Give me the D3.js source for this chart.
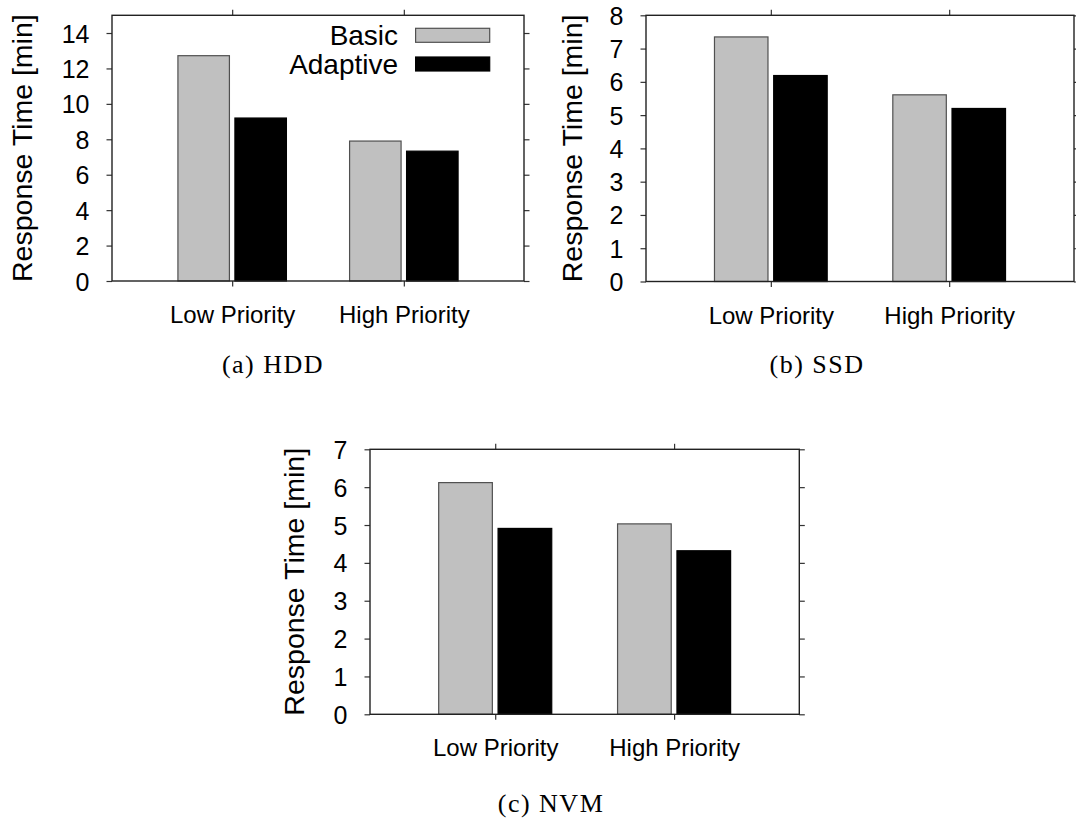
<!DOCTYPE html>
<html>
<head>
<meta charset="utf-8">
<script src="https://cdn.jsdelivr.net/npm/d3@7"></script>
<style>
  body { margin: 0; background: #fff; }
  svg { display: block; }
</style>
</head>
<body>
<svg id="fig" width="1076" height="820"></svg>
<script>
// Response time per storage tier, two request priorities, two scheduling modes
const categories = ["Low Priority", "High Priority"];
const seriesNames = ["Basic", "Adaptive"];

const hddBasic = [12.72, 7.90];
const hddAdaptive = [9.20, 7.33];
const ssdBasic = [7.35, 5.61];
const ssdAdaptive = [6.19, 5.20];
const nvmBasic = [6.12, 5.03];
const nvmAdaptive = [4.91, 4.32];

const hddTicks = [0, 2, 4, 6, 8, 10, 12, 14];
const ssdTicks = [0, 1, 2, 3, 4, 5, 6, 7, 8];
const nvmTicks = [0, 1, 2, 3, 4, 5, 6, 7];

const captions = ["(a) HDD", "(b) SSD", "(c) NVM"];
const yLabel = "Response Time [min]";

const seriesFill = ["#c0c0c0", "#000000"];
const seriesStroke = ["#505050", "#000000"];

const SANS = "'Liberation Sans', Arial, Helvetica, sans-serif";
const SERIF = "'Liberation Serif', 'Times New Roman', serif";

const panels = [
  { basic: hddBasic, adaptive: hddAdaptive, ticks: hddTicks, yMax: 15,
    box: { x0: 112, x1: 524, y0: 15.3, y1: 281 }, yLabelX: 32,
    caption: captions[0], capX: 273, capY: 373, legend: true },
  { basic: ssdBasic, adaptive: ssdAdaptive, ticks: ssdTicks, yMax: 8,
    box: { x0: 646, x1: 1074, y0: 15.3, y1: 281.5 }, yLabelX: 582,
    caption: captions[1], capX: 817, capY: 373, legend: false },
  { basic: nvmBasic, adaptive: nvmAdaptive, ticks: nvmTicks, yMax: 7,
    box: { x0: 370, x1: 799.3, y0: 449.3, y1: 714.3 }, yLabelX: 304,
    caption: captions[2], capX: 551, capY: 812, legend: false }
];

// bar extents around each category position, in category units
const barSpan = [[-0.316, -0.016], [0.016, 0.316]];
const TICK = 5.5;

const svg = d3.select("#fig");

function drawPanel(p) {
  const b = p.box;
  const x = d3.scaleLinear().domain([-0.7, 1.7]).range([b.x0, b.x1]);
  const y = d3.scaleLinear().domain([0, p.yMax]).range([b.y1, b.y0]);
  const g = svg.append("g");

  const bars = [];
  categories.forEach((c, i) => {
    [p.basic[i], p.adaptive[i]].forEach((v, s) => bars.push({ i, s, v }));
  });

  g.selectAll("rect.bar").data(bars).join("rect")
    .attr("class", "bar")
    .attr("x", d => x(d.i + barSpan[d.s][0]))
    .attr("width", d => x(d.i + barSpan[d.s][1]) - x(d.i + barSpan[d.s][0]))
    .attr("y", d => y(d.v))
    .attr("height", d => y(0) - y(d.v))
    .attr("fill", d => seriesFill[d.s])
    .attr("stroke", d => seriesStroke[d.s])
    .attr("stroke-width", 1.2);

  // axes with outward ticks on all four sides
  const left = g.append("g").attr("transform", `translate(${b.x0},0)`)
    .call(d3.axisLeft(y).tickValues(p.ticks).tickSize(TICK).tickPadding(17).tickFormat(d3.format("d")));
  const right = g.append("g").attr("transform", `translate(${b.x1},0)`)
    .call(d3.axisRight(y).tickValues(p.ticks).tickSize(TICK).tickFormat(""));
  const bottom = g.append("g").attr("transform", `translate(0,${b.y1})`)
    .call(d3.axisBottom(x).tickValues([0, 1]).tickSize(TICK).tickFormat(i => categories[i]));
  const top = g.append("g").attr("transform", `translate(0,${b.y0})`)
    .call(d3.axisTop(x).tickValues([0, 1]).tickSize(TICK).tickFormat(""));

  [left, right, bottom, top].forEach(a => {
    a.select(".domain").remove();
    a.selectAll("line").attr("stroke", "#333").attr("stroke-width", 1.2);
  });
  left.selectAll("text").attr("font-family", SANS).attr("font-size", 25).attr("fill", "#000")
    .attr("dy", "0.36em");
  bottom.selectAll("text").attr("font-family", SANS).attr("font-size", 24).attr("fill", "#000")
    .attr("y", 42).attr("dy", 0);

  g.append("rect")
    .attr("x", b.x0).attr("y", b.y0)
    .attr("width", b.x1 - b.x0).attr("height", b.y1 - b.y0)
    .attr("fill", "none").attr("stroke", "#222").attr("stroke-width", 1.4);

  g.append("text")
    .attr("transform", `translate(${p.yLabelX},${(b.y0 + b.y1) / 2}) rotate(-90)`)
    .attr("text-anchor", "middle")
    .attr("font-family", SANS).attr("font-size", 28.5).attr("fill", "#000")
    .text(yLabel);

  if (p.legend) {
    const lg = g.append("g");
    const items = seriesNames.map((n, s) => ({ n, s }));
    const sw0 = b.x1 - 108.4, sw1 = b.x1 - 34.3;
    lg.selectAll("rect").data(items).join("rect")
      .attr("x", sw0).attr("width", sw1 - sw0)
      .attr("y", d => 28.3 + d.s * 28.7).attr("height", 14)
      .attr("fill", d => seriesFill[d.s]).attr("stroke", d => seriesStroke[d.s]).attr("stroke-width", 1.2);
    lg.selectAll("text").data(items).join("text")
      .attr("x", sw0 - 17.5).attr("y", d => 44.8 + d.s * 28.7)
      .attr("text-anchor", "end")
      .attr("font-family", SANS).attr("font-size", 28).attr("fill", "#000")
      .text(d => d.n);
  }

  svg.append("text")
    .attr("x", p.capX).attr("y", p.capY)
    .attr("text-anchor", "middle")
    .attr("font-family", SERIF).attr("font-size", 26).attr("fill", "#000")
    .attr("letter-spacing", 1.5)
    .text(p.caption);
}

panels.forEach(drawPanel);
</script>
</body>
</html>
